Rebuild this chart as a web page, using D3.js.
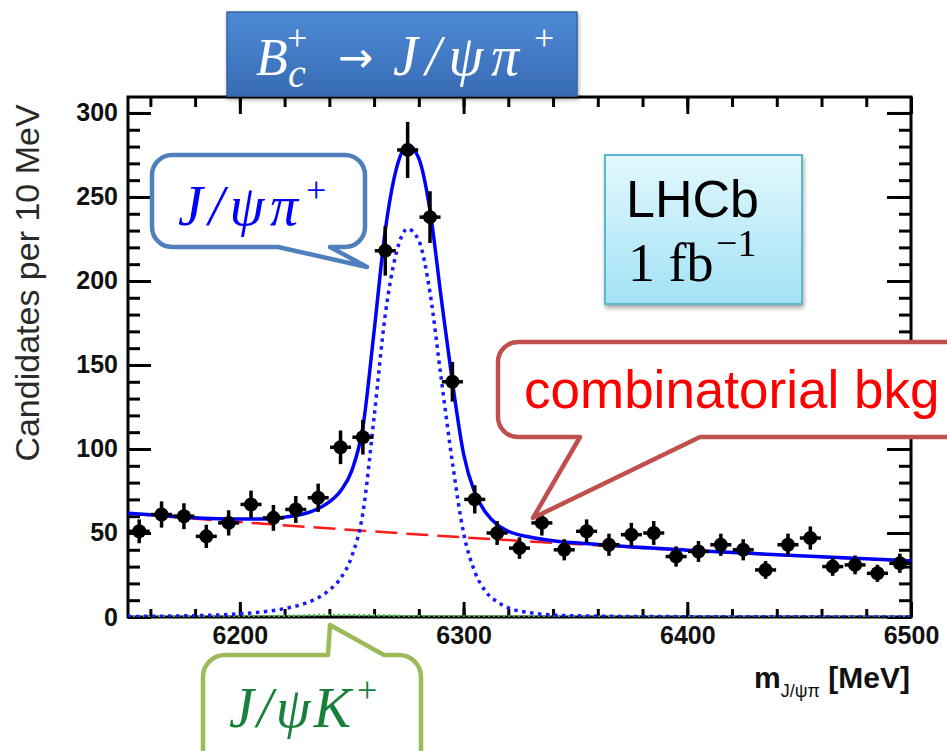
<!DOCTYPE html>
<html>
<head>
<meta charset="utf-8">
<script src="https://cdn.jsdelivr.net/npm/d3@7"></script>
<style>
  body { margin: 0; background: #fff; }
  svg { display: block; }
</style>
</head>
<body>
<div id="box"></div>
<script>
// bin centres (MeV), counts per 10 MeV and their errors
var massBins = [6155, 6165, 6175, 6185, 6195, 6205, 6215, 6225, 6235, 6245,
                6255, 6265, 6275, 6285, 6295, 6305, 6315, 6325, 6335, 6345,
                6355, 6365, 6375, 6385, 6395, 6405, 6415, 6425, 6435, 6445,
                6455, 6465, 6475, 6485, 6495];
var counts = [51, 61, 60, 48, 56, 67, 59, 64, 71, 101,
              107, 218, 278, 238, 140, 70, 50, 41, 56, 40,
              51, 43, 49, 50, 36, 39, 43, 40, 28, 43,
              47, 30, 31, 26, 32];
var errors = [7.1, 7.8, 7.7, 6.9, 7.5, 8.2, 7.7, 8.0, 8.4, 10.0,
              10.3, 14.8, 16.7, 15.4, 11.8, 8.4, 7.1, 6.4, 7.5, 6.3,
              7.1, 6.6, 7.0, 7.1, 6.0, 6.2, 6.6, 6.3, 5.3, 6.6,
              6.9, 5.5, 5.6, 5.1, 5.7];

// fit curves
var fitMass = [6150, 6170, 6190, 6200, 6210, 6220, 6230, 6235, 6240, 6245,
               6250, 6255, 6260, 6265, 6270, 6275, 6280, 6285, 6290, 6295,
               6300, 6305, 6310, 6315, 6320, 6330, 6340, 6360, 6400, 6450, 6500];
var fitTotal = [61.8, 60.0, 58.5, 58.3, 58.3, 59.4, 61.9, 64.5, 68.5, 75,
                87, 113, 170, 230, 267, 281, 273, 242, 190, 140,
                97, 74, 62, 55, 51, 47.5, 45.4, 43.2, 39.8, 36.4, 33.4];
var fitSignal = [0.3, 0.6, 1.2, 2, 3, 5, 8.5, 11.5, 16, 23,
                 36, 62, 119, 180, 217, 231, 224, 193, 142, 92,
                 50, 27, 15, 9, 5.5, 2.5, 1.2, 0.5, 0.2, 0.1, 0];
var bkgMass = [6150, 6200, 6250, 6300, 6350, 6400, 6450, 6500];
var bkgValues = [61.5, 56.5, 51.8, 47.4, 43.4, 39.6, 36.3, 33.3];
var kMass = [6150, 6200, 6220, 6240, 6260, 6280, 6300, 6350, 6400, 6500];
var kValues = [0, 0.2, 0.6, 1.2, 1.0, 0.5, 0.3, 0.2, 0.1, 0.05];

var yMajor = [0, 50, 100, 150, 200, 250, 300];
var xMajor = [6200, 6300, 6400, 6500];

var W = 947, H = 751;
var pL = 128, pR = 911, pT = 97, pB = 617;

var svg = d3.select("#box").append("svg")
    .attr("width", W).attr("height", H);

var defs = svg.append("defs");
var gTitle = defs.append("linearGradient").attr("id", "gTitle")
    .attr("x1", 0).attr("y1", 0).attr("x2", 0).attr("y2", 1);
gTitle.append("stop").attr("offset", 0).attr("stop-color", "#4e8ad7");
gTitle.append("stop").attr("offset", 1).attr("stop-color", "#376bb3");
var gLhcb = defs.append("linearGradient").attr("id", "gLhcb")
    .attr("x1", 0).attr("y1", 0).attr("x2", 0).attr("y2", 1);
gLhcb.append("stop").attr("offset", 0).attr("stop-color", "#e3f8fd");
gLhcb.append("stop").attr("offset", 1).attr("stop-color", "#a2e2f6");
var shadow = defs.append("filter").attr("id", "shadow")
    .attr("x", "-10%").attr("y", "-10%").attr("width", "130%").attr("height", "140%");
shadow.append("feDropShadow").attr("dx", 1).attr("dy", 3)
    .attr("stdDeviation", 2).attr("flood-color", "#000").attr("flood-opacity", 0.35);

var x = d3.scaleLinear().domain([6150, 6500]).range([pL, pR]);
var y = d3.scaleLinear().domain([0, 309.5]).range([pB, pT]);

// minor ticks
var yMinor = d3.range(0, 310, 10);
var xMinor = d3.range(6160, 6500, 20);

function tickAxis(axis, cls, tr) {
    var g = svg.append("g").attr("class", cls).attr("transform", tr).call(axis);
    g.select(".domain").remove();
    g.selectAll("line").attr("stroke", "#000").attr("stroke-width", 3);
    return g;
}

tickAxis(d3.axisLeft(y).tickValues(yMinor).tickSize(-12).tickFormat(""), "ym", "translate(" + pL + ",0)");
tickAxis(d3.axisLeft(y).tickValues(yMajor).tickSize(-23).tickFormat(""), "yM", "translate(" + pL + ",0)");
tickAxis(d3.axisRight(y).tickValues(yMinor).tickSize(-12).tickFormat(""), "yrm", "translate(" + pR + ",0)");
tickAxis(d3.axisRight(y).tickValues(yMajor).tickSize(-24).tickFormat(""), "yrM", "translate(" + pR + ",0)");
tickAxis(d3.axisBottom(x).tickValues(xMinor).tickSize(-8).tickFormat(""), "xm", "translate(0," + pB + ")");
tickAxis(d3.axisBottom(x).tickValues(xMajor).tickSize(-15).tickFormat(""), "xM", "translate(0," + pB + ")");
tickAxis(d3.axisTop(x).tickValues(xMinor).tickSize(-10).tickFormat(""), "xtm", "translate(0," + pT + ")");
tickAxis(d3.axisTop(x).tickValues(xMajor).tickSize(-17).tickFormat(""), "xtM", "translate(0," + pT + ")");

// tick labels
var yLab = tickAxis(d3.axisLeft(y).tickValues(yMajor).tickSize(0).tickPadding(10), "yl", "translate(" + pL + ",0)");
yLab.selectAll("text").attr("font-family", "Liberation Sans, Arial, sans-serif")
    .attr("font-size", 25).attr("font-weight", "bold").attr("fill", "#111");
var xLab = tickAxis(d3.axisBottom(x).tickValues(xMajor).tickSize(0).tickPadding(9).tickFormat(d3.format("d")),
    "xl", "translate(0," + pB + ")");
xLab.selectAll("text").attr("font-family", "Liberation Sans, Arial, sans-serif")
    .attr("font-size", 25).attr("font-weight", "bold").attr("fill", "#111");

// frame
svg.append("rect").attr("x", pL).attr("y", pT)
    .attr("width", pR - pL).attr("height", pB - pT)
    .attr("fill", "none").attr("stroke", "#000").attr("stroke-width", 3);

// axis titles
svg.append("text")
    .attr("transform", "translate(39,283) rotate(-90)")
    .attr("text-anchor", "middle")
    .attr("font-family", "Liberation Sans, Arial, sans-serif")
    .attr("font-size", 34).attr("fill", "#2a2a2a")
    .text("Candidates per 10 MeV");

var xt = svg.append("text").attr("x", 910).attr("y", 688)
    .attr("text-anchor", "end")
    .attr("font-family", "Liberation Sans, Arial, sans-serif")
    .attr("font-weight", "bold").attr("font-size", 30).attr("fill", "#111");
xt.append("tspan").text("m");
xt.append("tspan").attr("dy", 9).attr("font-size", 18).attr("font-weight", "normal").text("J/ψπ");
xt.append("tspan").attr("dy", -9).text(" [MeV]");

// curves
var clip = defs.append("clipPath").attr("id", "plotClip");
clip.append("rect").attr("x", pL).attr("y", pT)
    .attr("width", pR - pL).attr("height", pB - pT);
var plot = svg.append("g").attr("clip-path", "url(#plotClip)");

var line = d3.line()
    .x(function(d) { return x(d[0]); })
    .y(function(d) { return y(d[1]); })
    .curve(d3.curveMonotoneX);

plot.append("path").datum(d3.zip(kMass, kValues))
    .attr("d", line).attr("fill", "none")
    .attr("stroke", "#33cc33").attr("stroke-width", 2.5)
    .attr("stroke-dasharray", "2,3");
plot.append("path").datum(d3.zip(bkgMass, bkgValues))
    .attr("d", line).attr("fill", "none")
    .attr("stroke", "#ff1a1a").attr("stroke-width", 2.5)
    .attr("stroke-dasharray", "22,9");
plot.append("path").datum(d3.zip(fitMass, fitSignal))
    .attr("d", line).attr("fill", "none")
    .attr("stroke", "#1a1aff").attr("stroke-width", 3.5)
    .attr("stroke-dasharray", "3.5,4.5");
plot.append("path").datum(d3.zip(fitMass, fitTotal))
    .attr("d", line).attr("fill", "none")
    .attr("stroke", "#0000ff").attr("stroke-width", 3.5);

// data points with error bars
var pts = plot.selectAll(".pt")
    .data(d3.zip(massBins, counts, errors))
    .enter().append("g").attr("class", "pt");
pts.append("line")
    .attr("x1", function(d) { return x(d[0]); })
    .attr("x2", function(d) { return x(d[0]); })
    .attr("y1", function(d) { return y(d[1] - d[2]); })
    .attr("y2", function(d) { return y(d[1] + d[2]); })
    .attr("stroke", "#000").attr("stroke-width", 3.5);
pts.append("line")
    .attr("x1", function(d) { return x(d[0] - 4.7); })
    .attr("x2", function(d) { return x(d[0] + 4.7); })
    .attr("y1", function(d) { return y(d[1]); })
    .attr("y2", function(d) { return y(d[1]); })
    .attr("stroke", "#000").attr("stroke-width", 3.5);
pts.append("circle")
    .attr("cx", function(d) { return x(d[0]); })
    .attr("cy", function(d) { return y(d[1]); })
    .attr("r", 7).attr("fill", "#000");

// ---- annotations ----
var serif = "Liberation Serif, Times New Roman, serif";

function mathText(g, tx, ty, size, str, len, italic) {
    var t = g.append("text").attr("x", tx).attr("y", ty)
        .attr("font-size", size).text(str);
    if (italic) t.attr("font-style", "italic");
    if (len) t.attr("textLength", len).attr("lengthAdjust", "spacing");
    return t;
}

// title box
svg.append("rect").attr("x", 227).attr("y", 12).attr("width", 350).attr("height", 84)
    .attr("fill", "url(#gTitle)").attr("stroke", "#3563a3").attr("stroke-width", 1.5)
    .attr("filter", "url(#shadow)");
var tt = svg.append("g").attr("fill", "#fff").attr("font-family", serif);
mathText(tt, 256, 75, 52, "B", 0, true);
mathText(tt, 287, 50, 36, "+", 0, false);
mathText(tt, 288, 87, 40, "c", 0, true);
tt.append("text").attr("x", 338).attr("y", 72).attr("font-size", 42)
    .attr("font-family", "DejaVu Sans, sans-serif").text("→");
mathText(tt, 393, 75, 56, "J/ψπ", 126, true);
mathText(tt, 534, 50, 36, "+", 0, false);

// rounded callout, pointer on its bottom edge between a and b
function calloutBottom(x0, y0, x1, y1, r, a, b, tx, ty) {
    var p = d3.path();
    p.moveTo(x0 + r, y0);
    p.lineTo(x1 - r, y0);
    p.arcTo(x1, y0, x1, y0 + r, r);
    p.lineTo(x1, y1 - r);
    p.arcTo(x1, y1, x1 - r, y1, r);
    p.lineTo(b, y1);
    p.lineTo(tx, ty);
    p.lineTo(a, y1);
    p.lineTo(x0 + r, y1);
    p.arcTo(x0, y1, x0, y1 - r, r);
    p.lineTo(x0, y0 + r);
    p.arcTo(x0, y0, x0 + r, y0, r);
    p.closePath();
    return p.toString();
}

// rounded callout, pointer on its top edge between a and b
function calloutTop(x0, y0, x1, y1, r, a, b, tx, ty) {
    var p = d3.path();
    p.moveTo(x0 + r, y0);
    p.lineTo(a, y0);
    p.lineTo(tx, ty);
    p.lineTo(b, y0);
    p.lineTo(x1 - r, y0);
    p.arcTo(x1, y0, x1, y0 + r, r);
    p.lineTo(x1, y1 - r);
    p.arcTo(x1, y1, x1 - r, y1, r);
    p.lineTo(x0 + r, y1);
    p.arcTo(x0, y1, x0, y1 - r, r);
    p.lineTo(x0, y0 + r);
    p.arcTo(x0, y0, x0 + r, y0, r);
    p.closePath();
    return p.toString();
}

// J/psi pi+ callout
svg.append("path")
    .attr("d", calloutBottom(152, 155, 365, 247, 20, 278, 330, 367, 267))
    .attr("fill", "#fff").attr("stroke", "#4f7fbc").attr("stroke-width", 4.5)
    .attr("stroke-linejoin", "round");
var jp = svg.append("g").attr("fill", "#0000ff").attr("font-family", serif);
mathText(jp, 178, 225, 56, "J/ψπ", 120, true);
mathText(jp, 306, 202, 36, "+", 0, false);

// LHCb box
svg.append("rect").attr("x", 605).attr("y", 155).attr("width", 197).attr("height", 149)
    .attr("fill", "url(#gLhcb)").attr("stroke", "#5bb7cf").attr("stroke-width", 2)
    .attr("filter", "url(#shadow)");
svg.append("text").attr("x", 626).attr("y", 217)
    .attr("font-family", "Liberation Sans, Arial, sans-serif").attr("font-size", 52)
    .attr("fill", "#000").text("LHCb");
var lum = svg.append("g").attr("fill", "#000").attr("font-family", serif);
mathText(lum, 628, 281, 54, "1 fb", 0, false);
mathText(lum, 716, 256, 38, "−1", 0, false);

// combinatorial bkg callout
svg.append("path")
    .attr("d", calloutBottom(498, 342, 975, 437, 20, 580, 700, 533, 518))
    .attr("fill", "#fff").attr("stroke", "#c0504d").attr("stroke-width", 4.5)
    .attr("stroke-linejoin", "round");
svg.append("text").attr("x", 524).attr("y", 408)
    .attr("font-family", "Liberation Sans, Arial, sans-serif").attr("font-size", 53)
    .attr("fill", "#ff0000").text("combinatorial bkg");

// J/psi K+ callout
svg.append("path")
    .attr("d", calloutTop(203, 655, 421, 790, 22, 328, 384, 330, 625))
    .attr("fill", "#fff").attr("stroke", "#9bbb59").attr("stroke-width", 4.5)
    .attr("stroke-linejoin", "round");
var jk = svg.append("g").attr("fill", "#17803a").attr("font-family", serif);
mathText(jk, 229, 727, 56, "J/ψK", 122, true);
mathText(jk, 357, 702, 36, "+", 0, false);
</script>
</body>
</html>
